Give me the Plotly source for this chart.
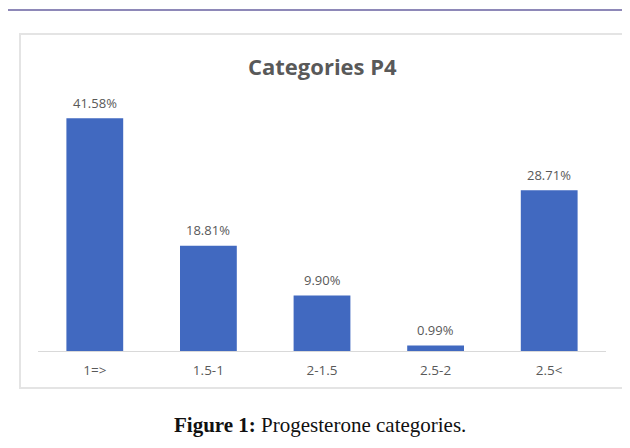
import plotly.graph_objects as go

categories = ["1=>", "1.5-1", "2-1.5", "2.5-2", "2.5<"]
values = [41.58, 18.81, 9.90, 0.99, 28.71]
labels = ["41.58%", "18.81%", "9.90%", "0.99%", "28.71%"]

SANS = "Open Sans, Liberation Sans, sans-serif"

# page pixel -> paper coordinate helpers (plot area spans x 38..606, y 99..351 on the page)
def px(x):
    return (x - 38) / 568

def py(y):
    return (351 - y) / 252

fig = go.Figure()
fig.add_trace(go.Bar(
    x=categories, y=values,
    marker=dict(color="#4169c0", line=dict(width=0)),
    hoverinfo="skip",
))

annotations = [
    dict(x=c, y=v, text=t, xref="x", yref="y", showarrow=False,
         yanchor="middle", yshift=15.5,
         font=dict(family=SANS, size=13, color="#595959"))
    for c, v, t in zip(categories, values, labels)
]
annotations.append(dict(
    x=px(322), y=py(66), xref="paper", yref="paper", showarrow=False,
    text="<b>Categories P4</b>", xanchor="center", yanchor="middle",
    font=dict(family=SANS, size=22, color="#595959")))
annotations.append(dict(
    x=px(320), y=py(425), xref="paper", yref="paper", showarrow=False,
    text="<b>Figure 1:</b> Progesterone categories.", xanchor="center", yanchor="middle",
    font=dict(family="Liberation Serif, Times New Roman, serif", size=21, color="#111111")))

shapes = [
    dict(type="rect", xref="paper", yref="paper",
         x0=px(20), x1=px(624), y0=py(388), y1=py(34),
         line=dict(color="#e4e4e4", width=2), fillcolor="rgba(0,0,0,0)", layer="below"),
    dict(type="line", xref="paper", yref="paper",
         x0=-1, x1=1.5, y0=py(10), y1=py(10),
         line=dict(color="#8e88b8", width=2)),
]

fig.update_layout(
    width=630, height=448,
    margin=dict(l=30, r=32, t=91, b=105),
    paper_bgcolor="white", plot_bgcolor="white",
    bargap=0.5,
    showlegend=False,
    annotations=annotations,
    shapes=shapes,
    xaxis=dict(
        showline=True, linecolor="#d9d9d9", linewidth=1,
        ticks="outside", ticklen=7, tickcolor="rgba(0,0,0,0)",
        tickfont=dict(family=SANS, size=13.5, color="#595959"),
        showgrid=False, zeroline=False, fixedrange=True,
    ),
    yaxis=dict(range=[0, 45], visible=False, showgrid=False, zeroline=False, fixedrange=True),
)

fig.write_html("out.html")
